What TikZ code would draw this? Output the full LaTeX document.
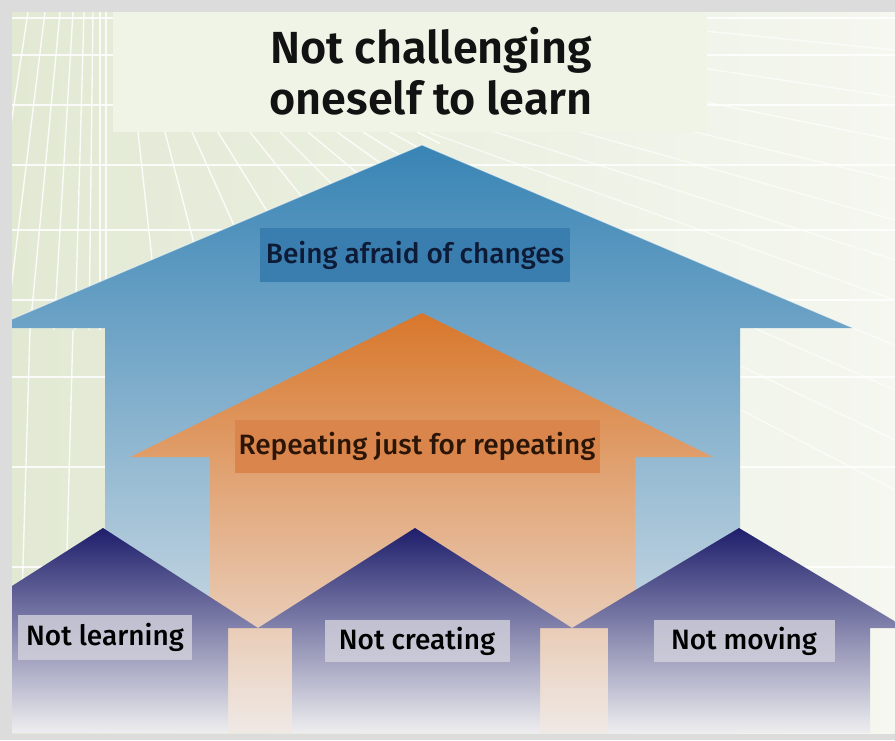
\documentclass[tikz,border=0pt]{standalone}
\usepackage{fontspec}
\setmainfont{Fira Sans}[BoldFont={Fira Sans SemiBold}]
\newfontfamily\hsmed{Fira Sans Medium}
\usetikzlibrary{positioning}
\definecolor{hsFrame}{HTML}{DCDCDC}
\definecolor{hsBgL}{HTML}{E2E9D3}
\definecolor{hsBgR}{HTML}{F5F7F0}
\definecolor{hsTitle}{HTML}{F0F4E7}
\definecolor{hsBlueT}{HTML}{3884B5}
\definecolor{hsBlueM}{HTML}{88ABC8}
\definecolor{hsBlueB}{HTML}{E4E8EB}
\definecolor{hsOrT}{HTML}{D8772B}
\definecolor{hsOrM}{HTML}{E6AA86}
\definecolor{hsOrB}{HTML}{EFE9E6}
\definecolor{hsNavyT}{HTML}{1E1E6C}
\definecolor{hsNavyM}{HTML}{9494AD}
\definecolor{hsNavyB}{HTML}{EEEEF0}
\definecolor{hsBlueBox}{HTML}{3A7EB0}
\definecolor{hsOrBox}{HTML}{D9854B}
\definecolor{hsGreyBox}{HTML}{D2D2DC}
\definecolor{hsNavyInk}{HTML}{0E1B36}
\definecolor{hsBrownInk}{HTML}{2A1507}
\tikzset{
  gridln/.style={white, line width=1.4pt, opacity=0.85},
  lbl/.style={inner sep=0pt, font=\hsmed\fontsize{28}{32}\selectfont, align=center},
  lblB/.style={lbl, fill=hsBlueBox, text=hsNavyInk},
  lblO/.style={lbl, fill=hsOrBox, text=hsBrownInk},
  lblN/.style={lbl, fill=hsGreyBox, fill opacity=0.8, text opacity=1, text=black},
  houseN/.style={top color=hsNavyT, middle color=hsNavyM, bottom color=hsNavyB},
}
\begin{document}
\begin{tikzpicture}[x=1pt,y=-1pt]
\useasboundingbox (0,0) rectangle (895,740);
\fill[hsFrame] (0,0) rectangle (895,740);
\begin{scope}
  \clip (12,12) rectangle (895,733);
  \shade[left color=hsBgL, right color=hsBgR] (12,12) rectangle (895,733);
  % background grid
  \foreach \y in {18,55,105,165,230,300,377,467,567}
    \draw[gridln] (12,\y) -- (895,\y);
  \begin{scope}
    \clip (12,12) rectangle (113,733);
    \foreach \t/\m in {28/-20,45/6,60/30,73/54,84/75,93/89,100/100,106/106}
      \draw[gridln] (\t,12) -- (\m,330);
    \foreach \t/\m in {30/18,73/62}
      \draw[gridln] (\t,330) -- (\m,733);
  \end{scope}
  \begin{scope}
    \clip (113,132) rectangle (440,733);
    \foreach \t/\s in {138/0.11,165/0.26,192/0.45,218/0.62,250/0.8,280/1.0,308/1.2,337/1.4,363/1.6,390/1.8,417/2.0}
      \draw[gridln] (\t,132) -- ++(\s*300,300);
  \end{scope}
  \begin{scope}
    \clip (430,12) rectangle (895,733);
    \foreach \e/\s in {50/0.10,97/0.15,140/0.2,180/0.24,220/0.28,260/0.32,300/0.36,345/0.40,390/0.44,440/0.48,490/0.52}
      \draw[gridln, opacity=0.6] (895,\e) -- ++(-600,-\s*600);
  \end{scope}
  % title
  \fill[hsTitle] (113,12) rectangle (707,132);
  \node[font=\bfseries\fontsize{45}{51}\selectfont, align=center, text=black!93] (title) at (431,71) {Not challenging\\oneself to learn};
  % blue house
  \shade[top color=hsBlueT, middle color=hsBlueM, bottom color=hsBlueB]
    (422,145) -- (853,328) -- (740,328) -- (740,733) -- (105,733) -- (105,328) -- (-9,328) -- cycle;
  \draw[white, opacity=0.5, line width=1pt] (-9,328) -- (422,145) -- (853,328);
  \node[lblB, minimum width=310, minimum height=54] (fear) at (415,255) {Being afraid of changes};
  % orange house
  \shade[top color=hsOrT, middle color=hsOrM, bottom color=hsOrB]
    (422,313) -- (713,457) -- (635,457) -- (635,733) -- (210,733) -- (210,457) -- (130,457) -- cycle;
  \node[lblO, minimum width=365, minimum height=53] (repeat) at (417,446) {Repeating just for repeating};
  % three small houses
  \shade[houseN] (-54,628) -- (103,528) -- (258,628) -- (228,628) -- (228,733) -- (-54,733) -- cycle;
  \shade[houseN] (258,628) -- (415,528) -- (572,628) -- (540,628) -- (540,733) -- (292,733) -- (292,628) -- cycle;
  \shade[houseN] (572,628) -- (739,528) -- (906,628) -- (870,628) -- (870,733) -- (608,733) -- (608,628) -- cycle;
  \node[lblN, minimum width=174, minimum height=45] (learn) at (105,637) {Not learning};
  \node[lblN, minimum width=185, minimum height=42] (create) at (417,641) {Not creating};
  \node[lblN, minimum width=181, minimum height=42] (move) at (744,641) {Not moving};
\end{scope}
\end{tikzpicture}
\end{document}
